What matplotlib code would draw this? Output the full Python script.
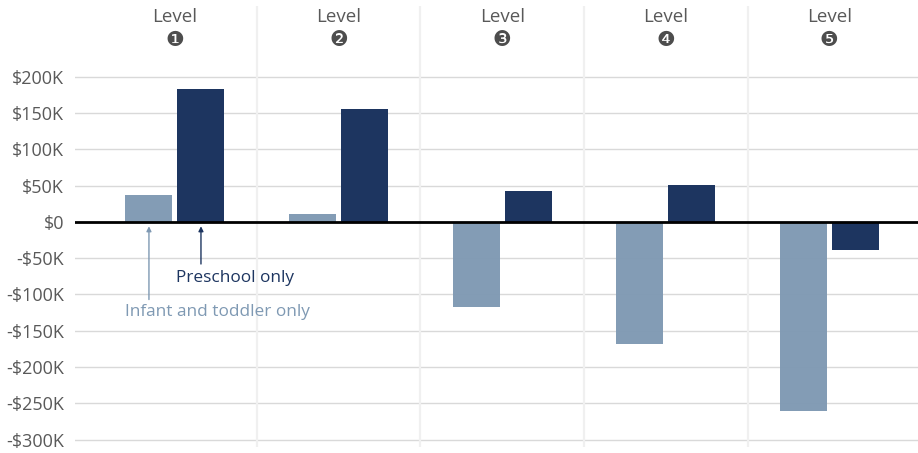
import matplotlib.pyplot as plt
import numpy as np

levels = ["Level", "Level", "Level", "Level", "Level"]
level_marks = ["❶", "❷", "❸", "❹", "❺"]
infant_toddler = [37, 11, -117, -168, -261]   # $K
preschool = [183, 156, 43, 51, -39]           # $K
yticks = [200, 150, 100, 50, 0, -50, -100, -150, -200, -250, -300]
ytick_labels = ["$200K", "$150K", "$100K", "$50K", "$0", "-$50K", "-$100K",
                "-$150K", "-$200K", "-$250K", "-$300K"]

LIGHT = "#7f99b3"
DARK = "#1d3560"
TXT = "#595959"

plt.rcParams['font.family'] = ['Open Sans', 'DejaVu Sans']

fig = plt.figure(figsize=(9.18, 4.53), dpi=100)
ax = fig.add_axes([75/918, 0, 843/918, 1])

x = np.arange(len(levels))
w = 0.287
off = 0.159

ax.set_xlim(-0.611, 4.542)
ax.set_ylim(-318.6, 306)

# horizontal gridlines
for v in yticks:
    if v != 0:
        ax.axhline(v, color="#d9d9d9", lw=1, zorder=0)
# column separators
for s in np.arange(0.5, 4.5, 1):
    ax.vlines(s, -310, 298, color="#f0f0f0", lw=1.6, zorder=0)

ax.bar(x - off, infant_toddler, width=w, color=LIGHT, alpha=0.97, zorder=1)
ax.bar(x + off, preschool, width=w, color=DARK, zorder=2)
ax.axhline(0, color="black", lw=2, zorder=3)

ax.set_yticks(yticks)
ax.set_yticklabels(ytick_labels, fontsize=13, color=TXT)
ax.tick_params(axis='y', length=0, pad=8)
ax.set_xticks([])
for sp in ax.spines.values():
    sp.set_visible(False)

for i, (lab, mk) in enumerate(zip(levels, level_marks)):
    ax.text(i, 283, lab, ha='center', va='center', fontsize=13.5, color=TXT)
    ax.text(i, 251, mk, ha='center', va='center', fontsize=15, color="#4d4d4d",
            family=['DejaVu Sans'])

ax.text(x[0] + off - 0.15, -77, "Preschool only", ha='left', va='center',
        fontsize=12.4, color=DARK)
ax.annotate("", xy=(x[0] + off, -6), xytext=(x[0] + off, -58),
            arrowprops=dict(arrowstyle='-|>', color=DARK, lw=1, mutation_scale=7,
                            shrinkA=0, shrinkB=0))
ax.text(x[0] - off - 0.145, -124, "Infant and toddler only", ha='left', va='center',
        fontsize=12.4, color=LIGHT)
ax.annotate("", xy=(x[0] - off, -6), xytext=(x[0] - off, -107),
            arrowprops=dict(arrowstyle='-|>', color=LIGHT, lw=1, mutation_scale=7,
                            shrinkA=0, shrinkB=0))

fig.savefig("out.png", dpi=100)
